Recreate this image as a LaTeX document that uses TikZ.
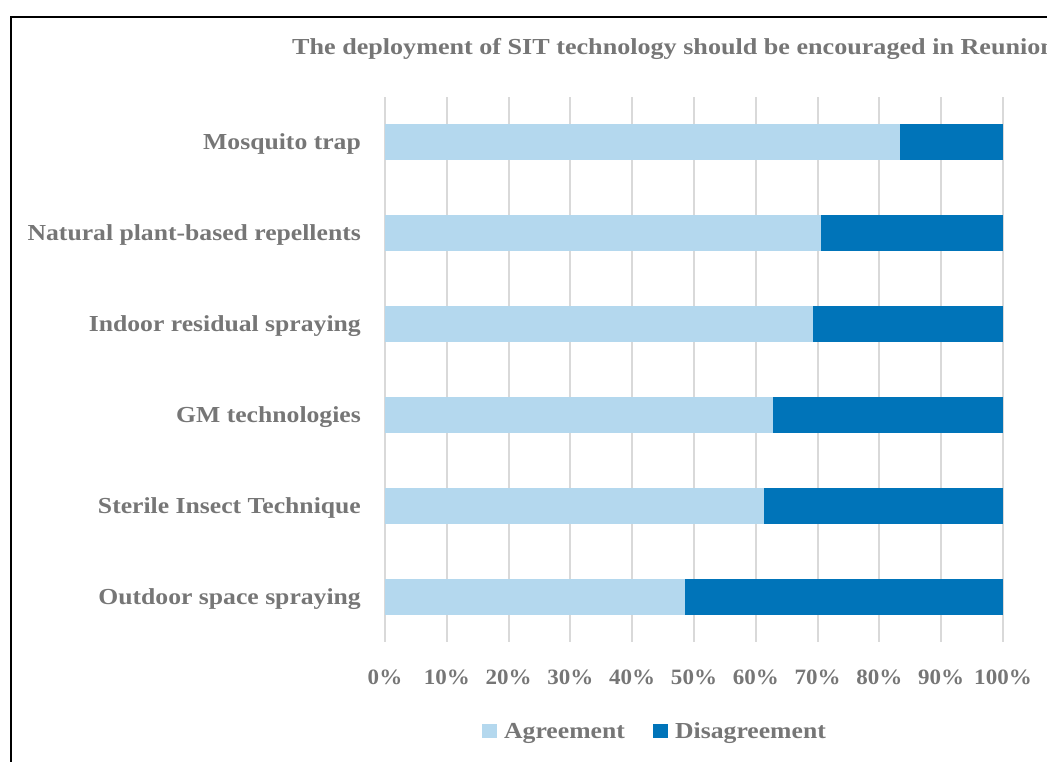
\documentclass[tikz,border=0pt]{standalone}
\usepackage{fontspec}
\setmainfont{Liberation Serif}
\newfontfamily\widefont[FakeStretch=1.12]{Liberation Serif}
\newfontfamily\titlefont[FakeStretch=1.14]{Liberation Serif}
\newfontfamily\tickfont[FakeStretch=1.05]{Liberation Serif}
\definecolor{txtgray}{RGB}{118,118,118}
\definecolor{agree}{RGB}{180,216,238}
\definecolor{disagree}{RGB}{0,116,185}
\definecolor{gridgray}{RGB}{217,217,217}
\tikzset{
  lbl/.style={text=txtgray, font=\widefont\fontsize{23}{26}\selectfont\bfseries, inner sep=0pt},
  ticklbl/.style={text=txtgray, font=\tickfont\fontsize{22}{24}\selectfont\bfseries, inner sep=0pt, anchor=base},
  titlelbl/.style={text=txtgray, font=\titlefont\fontsize{23}{26}\selectfont\bfseries, inner sep=0pt, anchor=base west},
  gridline/.style={draw=gridgray, line width=2},
  agreebar/.style={fill=agree},
  disbar/.style={fill=disagree},
}
\begin{document}
\begin{tikzpicture}[x=1bp,y=-1bp]
\useasboundingbox (0,0) rectangle (1047,762);
% frame
\draw[line width=2.2, black] (11,790) -- (11,17) -- (1080,17);
% title
\node[titlelbl] (title) at (292,55) {The deployment of SIT technology should be encouraged in Reunion};
% grid
\foreach \i in {0,...,10}{
  \draw[gridline] ({385+61.8*\i},97) -- ({385+61.8*\i},642);
  \node[ticklbl] (tick\i) at ({385+61.8*\i},684) {\pgfmathparse{int(\i*10)}\pgfmathresult\%};
}
% bars
\foreach \name/\val/\yc [count=\k] in {Mosquito trap/83.3/142, Natural plant-based repellents/70.6/233, Indoor residual spraying/69.3/324, GM technologies/62.8/415, Sterile Insect Technique/61.3/506, Outdoor space spraying/48.5/597}{
  \fill[agreebar] (385,\yc-18) rectangle ({385+6.18*\val},\yc+18);
  \fill[disbar] ({385+6.18*\val},\yc-18) rectangle (1003,\yc+18);
  \node[lbl, anchor=base east] (cat\k) at (361,\yc+7.5) {\name};
}
% legend
\fill[agree] (482,724) rectangle (497,738);
\node[lbl, anchor=base west] (legA) at (504,738) {Agreement};
\fill[disagree] (653,724) rectangle (668,738);
\node[lbl, anchor=base west] (legD) at (675,738) {Disagreement};
\end{tikzpicture}
\end{document}
